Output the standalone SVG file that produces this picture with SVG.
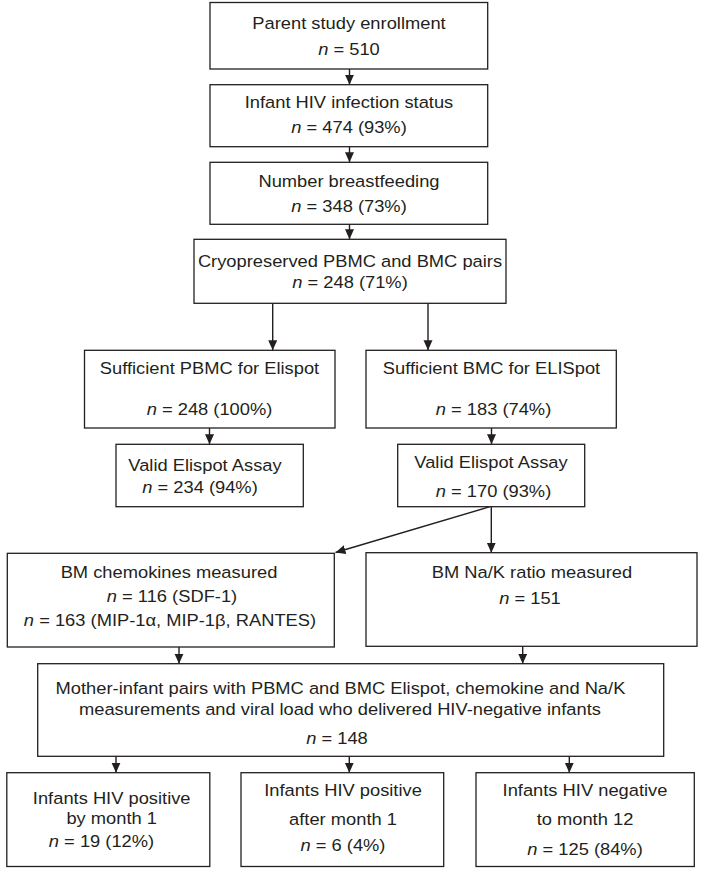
<svg xmlns="http://www.w3.org/2000/svg" width="704" height="873" viewBox="0 0 704 873">
<style>
.box{fill:#fff;stroke:#231f20;stroke-width:1.3}
.t{font-family:"Liberation Sans",Arial,Helvetica,sans-serif;font-size:16.5px;fill:#231f20;text-anchor:middle;transform-box:fill-box;transform-origin:center;transform:scaleX(1.11)}
.i{font-style:italic}
#connectors line{stroke:#231f20;stroke-width:1.4;marker-end:url(#ah)}
</style>
<defs>
<marker id="ah" markerUnits="userSpaceOnUse" markerWidth="11" markerHeight="10" refX="10" refY="4.5" orient="auto">
<path d="M0,0 L10,4.5 L0,9 z" fill="#231f20"/>
</marker>
</defs>
<rect width="704" height="873" fill="#fff"/>

<g id="connectors">
<line x1="349.5" y1="69" x2="349.5" y2="84.7"/>
<line x1="349.5" y1="146.7" x2="349.5" y2="162.3"/>
<line x1="349.5" y1="224.3" x2="349.5" y2="239.3"/>
<line x1="272.7" y1="303.3" x2="272.7" y2="350.3"/>
<line x1="428" y1="303.3" x2="428" y2="350.3"/>
<line x1="209.5" y1="428" x2="209.5" y2="444.3"/>
<line x1="491.5" y1="428" x2="491.5" y2="444.3"/>
<line x1="491.3" y1="506.7" x2="491.3" y2="552.7"/>
<line x1="490" y1="506.7" x2="335.5" y2="552.5"/>
<line x1="179" y1="647" x2="179" y2="663.7"/>
<line x1="522.7" y1="646.3" x2="522.7" y2="663.7"/>
<line x1="116" y1="756.3" x2="116" y2="772.7"/>
<line x1="349.3" y1="756.3" x2="349.3" y2="772.7"/>
<line x1="569.3" y1="756.3" x2="569.3" y2="772.7"/>
</g>

<g id="n1">
<rect class="box" x="210" y="2.5" width="277.7" height="66.5"/>
<text class="t" x="349" y="29">Parent study enrollment</text>
<text class="t" x="349" y="55"><tspan class="i">n</tspan> = 510</text>
</g>
<g id="n2">
<rect class="box" x="210" y="84.7" width="277.7" height="62"/>
<text class="t" x="349" y="108.3">Infant HIV infection status</text>
<text class="t" x="349" y="133.3"><tspan class="i">n</tspan> = 474 (93%)</text>
</g>
<g id="n3">
<rect class="box" x="210" y="162.3" width="277.7" height="62"/>
<text class="t" x="349" y="186.7">Number breastfeeding</text>
<text class="t" x="349" y="211.7"><tspan class="i">n</tspan> = 348 (73%)</text>
</g>
<g id="n4">
<rect class="box" x="194" y="239.3" width="312" height="64"/>
<text class="t" x="350" y="266.7">Cryopreserved PBMC and BMC pairs</text>
<text class="t" x="350" y="288.3"><tspan class="i">n</tspan> = 248 (71%)</text>
</g>
<g id="n5">
<rect class="box" x="84.5" y="350.3" width="250.5" height="77.7"/>
<text class="t" x="209.5" y="374.3">Sufficient PBMC for Elispot</text>
<text class="t" x="209.5" y="415"><tspan class="i">n</tspan> = 248 (100%)</text>
</g>
<g id="n6">
<rect class="box" x="366" y="350.3" width="250.3" height="77.7"/>
<text class="t" x="491.5" y="374.3">Sufficient BMC for ELISpot</text>
<text class="t" x="493.5" y="415"><tspan class="i">n</tspan> = 183 (74%)</text>
</g>
<g id="n7">
<rect class="box" x="116" y="444.3" width="187.3" height="62.4"/>
<text class="t" x="205" y="470.7">Valid Elispot Assay</text>
<text class="t" x="200" y="493.3"><tspan class="i">n</tspan> = 234 (94%)</text>
</g>
<g id="n8">
<rect class="box" x="397.7" y="444.3" width="187" height="62.4"/>
<text class="t" x="491" y="468.3">Valid Elispot Assay</text>
<text class="t" x="493.5" y="496.7"><tspan class="i">n</tspan> = 170 (93%)</text>
</g>
<g id="n9">
<rect class="box" x="7.3" y="553.3" width="327" height="93.7"/>
<text class="t" x="169" y="578">BM chemokines measured</text>
<text class="t" x="172" y="602.3"><tspan class="i">n</tspan> = 116 (SDF-1)</text>
<text class="t" x="170" y="626.3"><tspan class="i">n</tspan> = 163 (MIP-1α, MIP-1β, RANTES)</text>
</g>
<g id="n10">
<rect class="box" x="366" y="552.7" width="331" height="93.6"/>
<text class="t" x="532" y="578">BM Na/K ratio measured</text>
<text class="t" x="530" y="603.7"><tspan class="i">n</tspan> = 151</text>
</g>
<g id="n11">
<rect class="box" x="37.7" y="663.7" width="626" height="92.6"/>
<text class="t" x="340.5" y="694">Mother-infant pairs with PBMC and BMC Elispot, chemokine and Na/K</text>
<text class="t" x="340" y="715">measurements and viral load who delivered HIV-negative infants</text>
<text class="t" x="337" y="744.5"><tspan class="i">n</tspan> = 148</text>
</g>
<g id="n12">
<rect class="box" x="6.8" y="772.7" width="203" height="93.8"/>
<text class="t" x="111.7" y="804.3">Infants HIV positive</text>
<text class="t" x="111.7" y="824.3">by month 1</text>
<text class="t" x="101.5" y="847.3"><tspan class="i">n</tspan> = 19 (12%)</text>
</g>
<g id="n13">
<rect class="box" x="241" y="772.7" width="202.7" height="93.8"/>
<text class="t" x="343" y="796.3">Infants HIV positive</text>
<text class="t" x="343" y="824.7">after month 1</text>
<text class="t" x="343" y="851.3"><tspan class="i">n</tspan> = 6 (4%)</text>
</g>
<g id="n14">
<rect class="box" x="476" y="772.7" width="218.3" height="93.8"/>
<text class="t" x="585" y="796.3">Infants HIV negative</text>
<text class="t" x="585" y="825.3">to month 12</text>
<text class="t" x="585" y="854.7"><tspan class="i">n</tspan> = 125 (84%)</text>
</g>
</svg>
